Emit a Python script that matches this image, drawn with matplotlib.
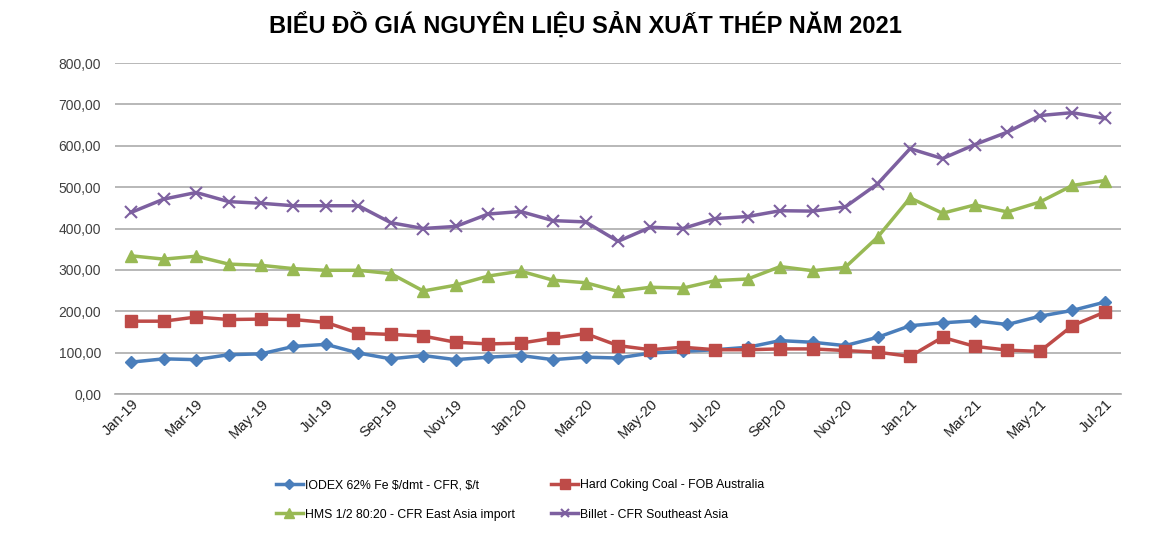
import matplotlib.pyplot as plt

# monthly data Jan-19 .. Jul-21
months = ['Jan-19', 'Feb-19', 'Mar-19', 'Apr-19', 'May-19', 'Jun-19', 'Jul-19', 'Aug-19',
          'Sep-19', 'Oct-19', 'Nov-19', 'Dec-19', 'Jan-20', 'Feb-20', 'Mar-20', 'Apr-20',
          'May-20', 'Jun-20', 'Jul-20', 'Aug-20', 'Sep-20', 'Oct-20', 'Nov-20', 'Dec-20',
          'Jan-21', 'Feb-21', 'Mar-21', 'Apr-21', 'May-21', 'Jun-21', 'Jul-21']

iodex = [77, 85, 83, 95, 97, 115, 120, 99, 85, 93, 83, 89, 93, 83, 89, 87,
         99, 103, 107, 113, 129, 125, 117, 137, 165, 172, 177, 168, 188, 202, 222]
coking = [176, 176, 186, 180, 181, 180, 173, 147, 144, 140, 125, 121, 123, 135, 146, 117,
          107, 113, 107, 107, 109, 109, 105, 101, 91, 137, 115, 106, 103, 165, 198]
hms = [334, 326, 333, 314, 311, 303, 299, 299, 291, 249, 263, 285, 297, 275, 269, 248,
       258, 256, 274, 278, 308, 298, 306, 379, 474, 437, 457, 440, 464, 504, 516]
billet = [439, 471, 487, 465, 461, 455, 455, 455, 414, 400, 405, 435, 441, 419, 416, 369,
          403, 400, 424, 429, 443, 442, 452, 508, 593, 569, 603, 633, 673, 680, 666]

labels = [r'IODEX 62% Fe \$/dmt - CFR, \$/t', 'Hard Coking Coal - FOB Australia',
          'HMS 1/2 80:20 - CFR East Asia import', 'Billet - CFR Southeast Asia']
title = 'BIỂU ĐỒ GIÁ NGUYÊN LIỆU SẢN XUẤT THÉP NĂM 2021'

plt.rcParams['font.family'] = ['Liberation Sans', 'DejaVu Sans']

fig = plt.figure(figsize=(11.7, 5.34), dpi=100)
ax = fig.add_axes([115 / 1170, 1 - 394 / 534, 1006 / 1170, 331 / 534])

x = range(len(months))
l1, = ax.plot(x, iodex, color='#4A7EBB', lw=2.5, marker='D', ms=6, label=labels[0])
l2, = ax.plot(x, coking, color='#BE4B48', lw=2.5, marker='s', ms=8.5, label=labels[1])
l3, = ax.plot(x, hms, color='#98B954', lw=2.5, marker='^', ms=9, label=labels[2])
l4, = ax.plot(x, billet, color='#7D60A0', lw=2.5, marker='x', ms=8, mew=1.5, label=labels[3])

ax.set_xlim(-0.5, len(months) - 0.5)
ax.set_ylim(0, 800)
ax.set_yticks(range(0, 801, 100))
ax.set_yticklabels([f'{v:.2f}'.replace('.', ',') for v in range(0, 801, 100)],
                   fontsize=10, color='#404040')
ax.grid(axis='y', color='#ABABAB', lw=1.2)
ax.set_axisbelow(True)
for s in ['top', 'right', 'left']:
    ax.spines[s].set_visible(False)
ax.spines['bottom'].set_color('#ABABAB')
ax.spines['bottom'].set_linewidth(1.2)
ax.tick_params(axis='y', length=0, pad=10)
ax.tick_params(axis='x', length=0, pad=2)

ax.set_xticks(list(x)[::2])
ax.set_xticklabels(months[::2], rotation=45, ha='right', va='top',
                   rotation_mode='anchor', fontsize=10.5, color='#202020')

fig.text(0.5, 1 - 25 / 534, title, ha='center', va='center', fontsize=17,
         fontweight='bold')

# legend fills column-major, so order handles to get rows IODEX/Coking, HMS/Billet
fig.legend([l1, l3, l2, l4], [labels[0], labels[2], labels[1], labels[3]],
           loc='upper left', bbox_to_anchor=(265 / 1170, 1 - 468 / 534), ncol=2,
           frameon=False, fontsize=8.8, handlelength=2.2, handletextpad=0.15,
           columnspacing=3.0, labelspacing=1.45, markerscale=0.8)

fig.savefig('out.png', dpi=100)
